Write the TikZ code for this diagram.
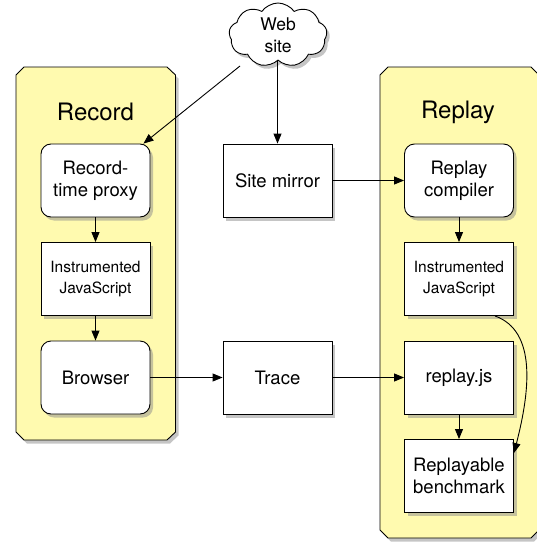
\documentclass[tikz,border=0pt]{standalone}
\usepackage{fontspec}
\setmainfont{TeX Gyre Heros}
\usetikzlibrary{arrows.meta,shapes.symbols,shadows,calc}
\definecolor{panelyellow}{RGB}{255,250,175}
\begin{document}
\begin{tikzpicture}[x=1pt,y=-1pt,
  myshadow/.style={drop shadow={shadow xshift=3pt,shadow yshift=-3.5pt,fill=black!45}},
  panel/.style={draw,line width=0.9pt,fill=panelyellow,myshadow},
  box/.style={draw,line width=0.9pt,fill=white,minimum width=109pt,minimum height=73pt,
    inner sep=2pt,align=center,font=\fontsize{18.5}{22}\selectfont,myshadow},
  rbox/.style={box,rounded corners=10pt},
  small/.style={font=\fontsize{15.5}{21}\selectfont},
  title/.style={font=\fontsize{24}{28}\selectfont},
  arr/.style={-{Triangle[length=10pt,width=8pt]},line width=0.9pt}]
\useasboundingbox (0,0) rectangle (537,543);
% panels
\path[panel] (24,67) -- (167,67) -- (175.5,75) -- (175.5,432) -- (167,440) -- (24,440) -- (16,432) -- (16,75) -- cycle;
\path[panel] (388,67) -- (531,67) -- (539,75) -- (539,530) -- (531,538) -- (388,538) -- (380,530) -- (380,75) -- cycle;
\node[title] (rectitle) at (95.5,112) {Record};
\node[title] (reptitle) at (458,112) {Replay};
% cloud
\node[cloud,cloud puffs=9,cloud puff arc=110,draw,line width=0.9pt,fill=white,minimum width=98pt,minimum height=64pt,
  inner sep=0pt,align=center,font=\fontsize{17.5}{22}\selectfont,myshadow] (cloud) at (278,35) {Web\\site};
% boxes
\node[rbox] (proxy) at (95.5,180.5) {Record-\\time proxy};
\node[box,small] (ijs1) at (95.5,279) {Instrumented\\JavaScript};
\node[rbox] (browser) at (95.5,377.5) {Browser};
\node[box] (mirror) at (277.5,180.5) {Site mirror};
\node[box] (trace) at (277.5,377.5) {Trace};
\node[rbox] (compiler) at (459,180.5) {Replay\\compiler};
\node[box,small] (ijs2) at (459,279) {Instrumented\\JavaScript};
\node[box] (replayjs) at (459,377.5) {replay.js};
\node[box] (bench) at (459,476) {Replayable\\benchmark};
% connectors
\draw[arr] ($(cloud.center)+(-38,31)$) -- ([xshift=-7pt]proxy.north east);
\draw[arr] (mirror.north |- cloud.south) -- (mirror.north);
\draw[arr] (mirror.east) -- (compiler.west);
\draw[arr] (browser.east) -- (trace.west);
\draw[arr] (trace.east) -- (replayjs.west);
\draw[arr] (proxy) -- (ijs1);
\draw[arr] (ijs1) -- (browser);
\draw[arr] (compiler) -- (ijs2);
\draw[arr] (replayjs) -- (bench);
\coordinate (cs) at ([xshift=-19pt]ijs2.south east);
\coordinate (ce) at ([yshift=23pt]bench.east);
\draw[arr] (cs) .. controls ($(cs)+(42,15)$) and ($(ce)+(16,-62)$) .. (ce);
\end{tikzpicture}
\end{document}
